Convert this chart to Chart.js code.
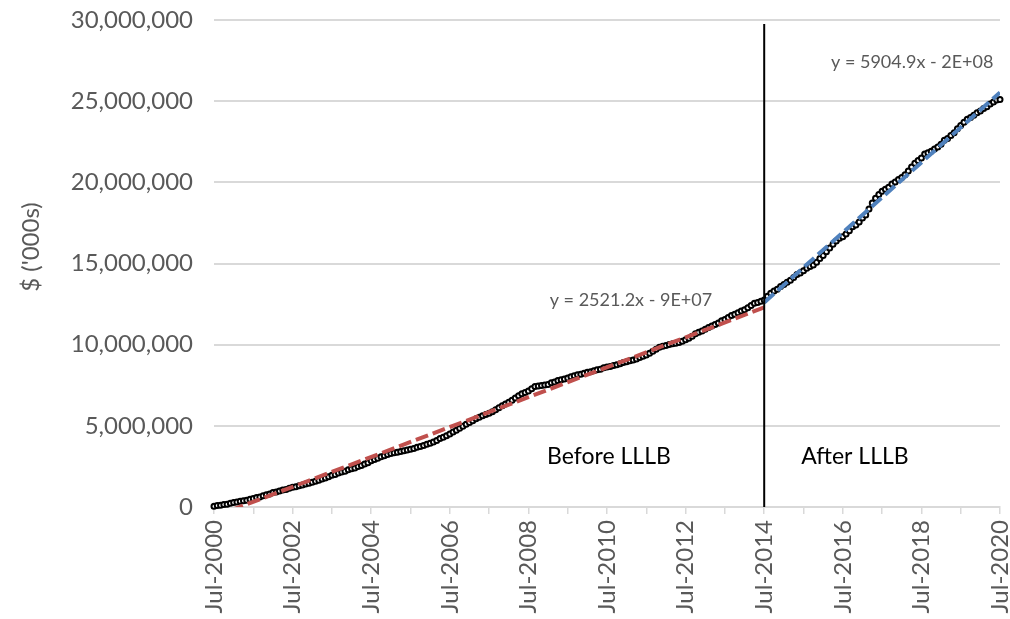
<!DOCTYPE html>
<html>
<head>
<meta charset="utf-8">
<script src="https://cdn.jsdelivr.net/npm/chart.js@4.4.1/dist/chart.umd.min.js"></script>
<style>
  html, body { margin: 0; padding: 0; background: #fff; }
  #wrap { width: 1010px; height: 619px; position: relative; }
</style>
</head>
<body>
<div id="wrap"><canvas id="chart"></canvas></div>
<script>
"use strict"

// Monthly totals in $'000s, one row per year starting each July (Jul-2000 .. Jul-2020)
const monthlyTotals = [
  50000, 90000, 110000, 150000, 170000, 230000, 280000, 310000, 350000, 390000, 420000, 480000,
  520000, 580000, 610000, 690000, 750000, 800000, 900000, 930000, 990000, 1040000, 1080000, 1150000,
  1220000, 1250000, 1310000, 1350000, 1420000, 1460000, 1520000, 1590000, 1650000, 1730000, 1790000, 1870000,
  1950000, 2000000, 2090000, 2150000, 2200000, 2290000, 2350000, 2410000, 2500000, 2560000, 2650000, 2730000,
  2850000, 2930000, 3010000, 3100000, 3160000, 3240000, 3300000, 3340000, 3380000, 3420000, 3470000, 3510000,
  3550000, 3600000, 3680000, 3720000, 3790000, 3860000, 3920000, 4010000, 4100000, 4220000, 4290000, 4390000,
  4500000, 4620000, 4730000, 4850000, 4970000, 5090000, 5200000, 5320000, 5430000, 5530000, 5620000, 5700000,
  5780000, 5870000, 5990000, 6110000, 6230000, 6350000, 6450000, 6580000, 6710000, 6850000, 6980000, 7060000,
  7150000, 7290000, 7420000, 7450000, 7480000, 7510000, 7550000, 7650000, 7700000, 7790000, 7840000, 7890000,
  7950000, 8020000, 8090000, 8150000, 8180000, 8240000, 8300000, 8330000, 8400000, 8450000, 8490000, 8580000,
  8620000, 8660000, 8720000, 8770000, 8820000, 8900000, 8950000, 9010000, 9060000, 9120000, 9210000, 9290000,
  9360000, 9470000, 9590000, 9720000, 9840000, 9900000, 9950000, 10010000, 10050000, 10090000, 10130000, 10210000,
  10300000, 10400000, 10520000, 10680000, 10760000, 10840000, 10950000, 11060000, 11150000, 11240000, 11330000, 11470000,
  11550000, 11680000, 11790000, 11880000, 11960000, 12080000, 12150000, 12280000, 12420000, 12550000, 12600000, 12680000,
  12750000, 12980000, 13160000, 13300000, 13420000, 13580000, 13700000, 13850000, 13970000, 14130000, 14320000, 14420000,
  14550000, 14700000, 14820000, 14900000, 15080000, 15310000, 15500000, 15730000, 15950000, 16180000, 16380000, 16550000,
  16650000, 16820000, 17020000, 17270000, 17370000, 17560000, 17800000, 17990000, 18350000, 18720000, 19020000, 19250000,
  19450000, 19570000, 19700000, 19900000, 20020000, 20180000, 20300000, 20460000, 20700000, 20950000, 21170000, 21340000,
  21500000, 21750000, 21830000, 21920000, 22050000, 22180000, 22350000, 22600000, 22700000, 22880000, 23060000, 23300000,
  23500000, 23700000, 23880000, 24000000, 24130000, 24280000, 24400000, 24550000, 24660000, 24820000, 24950000, 25070000,
  25100000
];

// x axis labels, one every 24 months
const tickLabels = ["Jul-2000", "Jul-2002", "Jul-2004", "Jul-2006", "Jul-2008", "Jul-2010",
  "Jul-2012", "Jul-2014", "Jul-2016", "Jul-2018", "Jul-2020"];

// LLLB starts Jul-2014 (month 168 after Jul-2000)
const breakMonth = 168;
const dividerTop = 29750000;

// Trendline slopes (per day) and their equations
const trendSlopes = [2521.2, 5904.9];
const trendEquations = ["y = 2521.2x - 9E+07", "y = 5904.9x - 2E+08"];
const periodNames = ["Before LLLB", "After LLLB"];

const font = "Lato";

//Build the points
let points = [];
for (let i = 0; i < monthlyTotals.length; i++) {
  points.push({x: i, y: monthlyTotals[i]});
}

//Linear trend between two months, slope given per day, passing through the mean point
function trendLine(from, to, slopePerDay) {
  const perMonth = slopePerDay * 365.25 / 12;
  let sx = 0, sy = 0, n = 0;
  for (let i = from; i <= to; i++) {
    sx += i;
    sy += monthlyTotals[i];
    n++;
  }
  const mx = sx / n, my = sy / n;
  return [
    {x: from, y: my + perMonth * (from - mx)},
    {x: to, y: my + perMonth * (to - mx)}
  ];
}

const lastMonth = monthlyTotals.length - 1;

//Text drawn on top of the plot
const annotations = {
  id: "annotations",
  afterDraw(chart) {
    const ctx = chart.ctx;
    const x = chart.scales.x;
    const y = chart.scales.y;
    ctx.save();
    ctx.textAlign = "center";
    ctx.textBaseline = "middle";

    ctx.fillStyle = "#595959";
    ctx.font = "18px " + font;
    ctx.fillText(trendEquations[0], x.getPixelForValue(127.3), y.getPixelForValue(12750000));
    ctx.fillText(trendEquations[1], x.getPixelForValue(213.2), y.getPixelForValue(27400000));

    ctx.fillStyle = "#000000";
    ctx.font = "23px " + font;
    ctx.fillText(periodNames[0], x.getPixelForValue(120.6), y.getPixelForValue(3080000));
    ctx.fillText(periodNames[1], x.getPixelForValue(195.7), y.getPixelForValue(3080000));

    // y axis title
    ctx.fillStyle = "#595959";
    ctx.font = "24px " + font;
    ctx.translate(31, 247);
    ctx.rotate(-Math.PI / 2);
    ctx.fillText("$ ('000s)", 0, 0);
    ctx.restore();
  }
};

const data = {
  datasets: [
    {
      label: "divider",
      data: [{x: breakMonth, y: 0}, {x: breakMonth, y: dividerTop}],
      borderColor: "#000000",
      borderWidth: 2,
      pointRadius: 0
    },
    {
      label: "trend before",
      data: trendLine(0, breakMonth, trendSlopes[0]),
      borderColor: "#c0504d",
      borderWidth: 4,
      borderDash: [13, 5],
      pointRadius: 0
    },
    {
      label: "trend after",
      data: trendLine(breakMonth, lastMonth, trendSlopes[1]),
      borderColor: "#4f81bd",
      borderWidth: 4,
      borderDash: [13, 5],
      pointRadius: 0
    },
    {
      label: "total",
      data: points,
      borderColor: "#000000",
      borderWidth: 2.5,
      pointRadius: 2.5,
      pointBorderWidth: 2,
      pointBorderColor: "#000000",
      pointBackgroundColor: "#ffffff",
      clip: false
    }
  ]
};

const config = {
  type: "line",
  data: data,
  plugins: [annotations],
  options: {
    responsive: true,
    maintainAspectRatio: false,
    animation: false,
    events: [],
    layout: { padding: { top: 20, right: 10, left: 0, bottom: 0 } },
    plugins: { legend: { display: false }, tooltip: { enabled: false } },
    scales: {
      x: {
        type: "linear",
        min: 0,
        max: 240,
        afterFit: (scale) => {
          scale.height = 112;
          scale.paddingLeft = 0;
          scale.paddingRight = 0;
        },
        ticks: {
          stepSize: 12,
          autoSkip: false,
          maxRotation: 90,
          minRotation: 90,
          padding: 6,
          color: "#595959",
          font: { family: font, size: 24 },
          callback: (v) => (v % 24 === 0 ? tickLabels[v / 24] : "")
        },
        grid: { drawOnChartArea: false, drawTicks: true, tickLength: 7, color: "#d9d9d9", lineWidth: 1.5 },
        border: { display: true, color: "#d9d9d9", width: 2 }
      },
      y: {
        min: 0,
        max: 30000000,
        afterFit: (scale) => {
          scale.width = 214;
          scale.paddingTop = 0;
          scale.paddingBottom = 0;
        },
        ticks: {
          stepSize: 5000000,
          padding: 21,
          color: "#595959",
          font: { family: font, size: 24 },
          callback: (v) => v.toLocaleString("en-US")
        },
        grid: { drawTicks: false, color: "#d9d9d9", lineWidth: 2 },
        border: { display: false }
      }
    }
  }
};

const myChart = new Chart(document.getElementById("chart"), config);
</script>
</body>
</html>
